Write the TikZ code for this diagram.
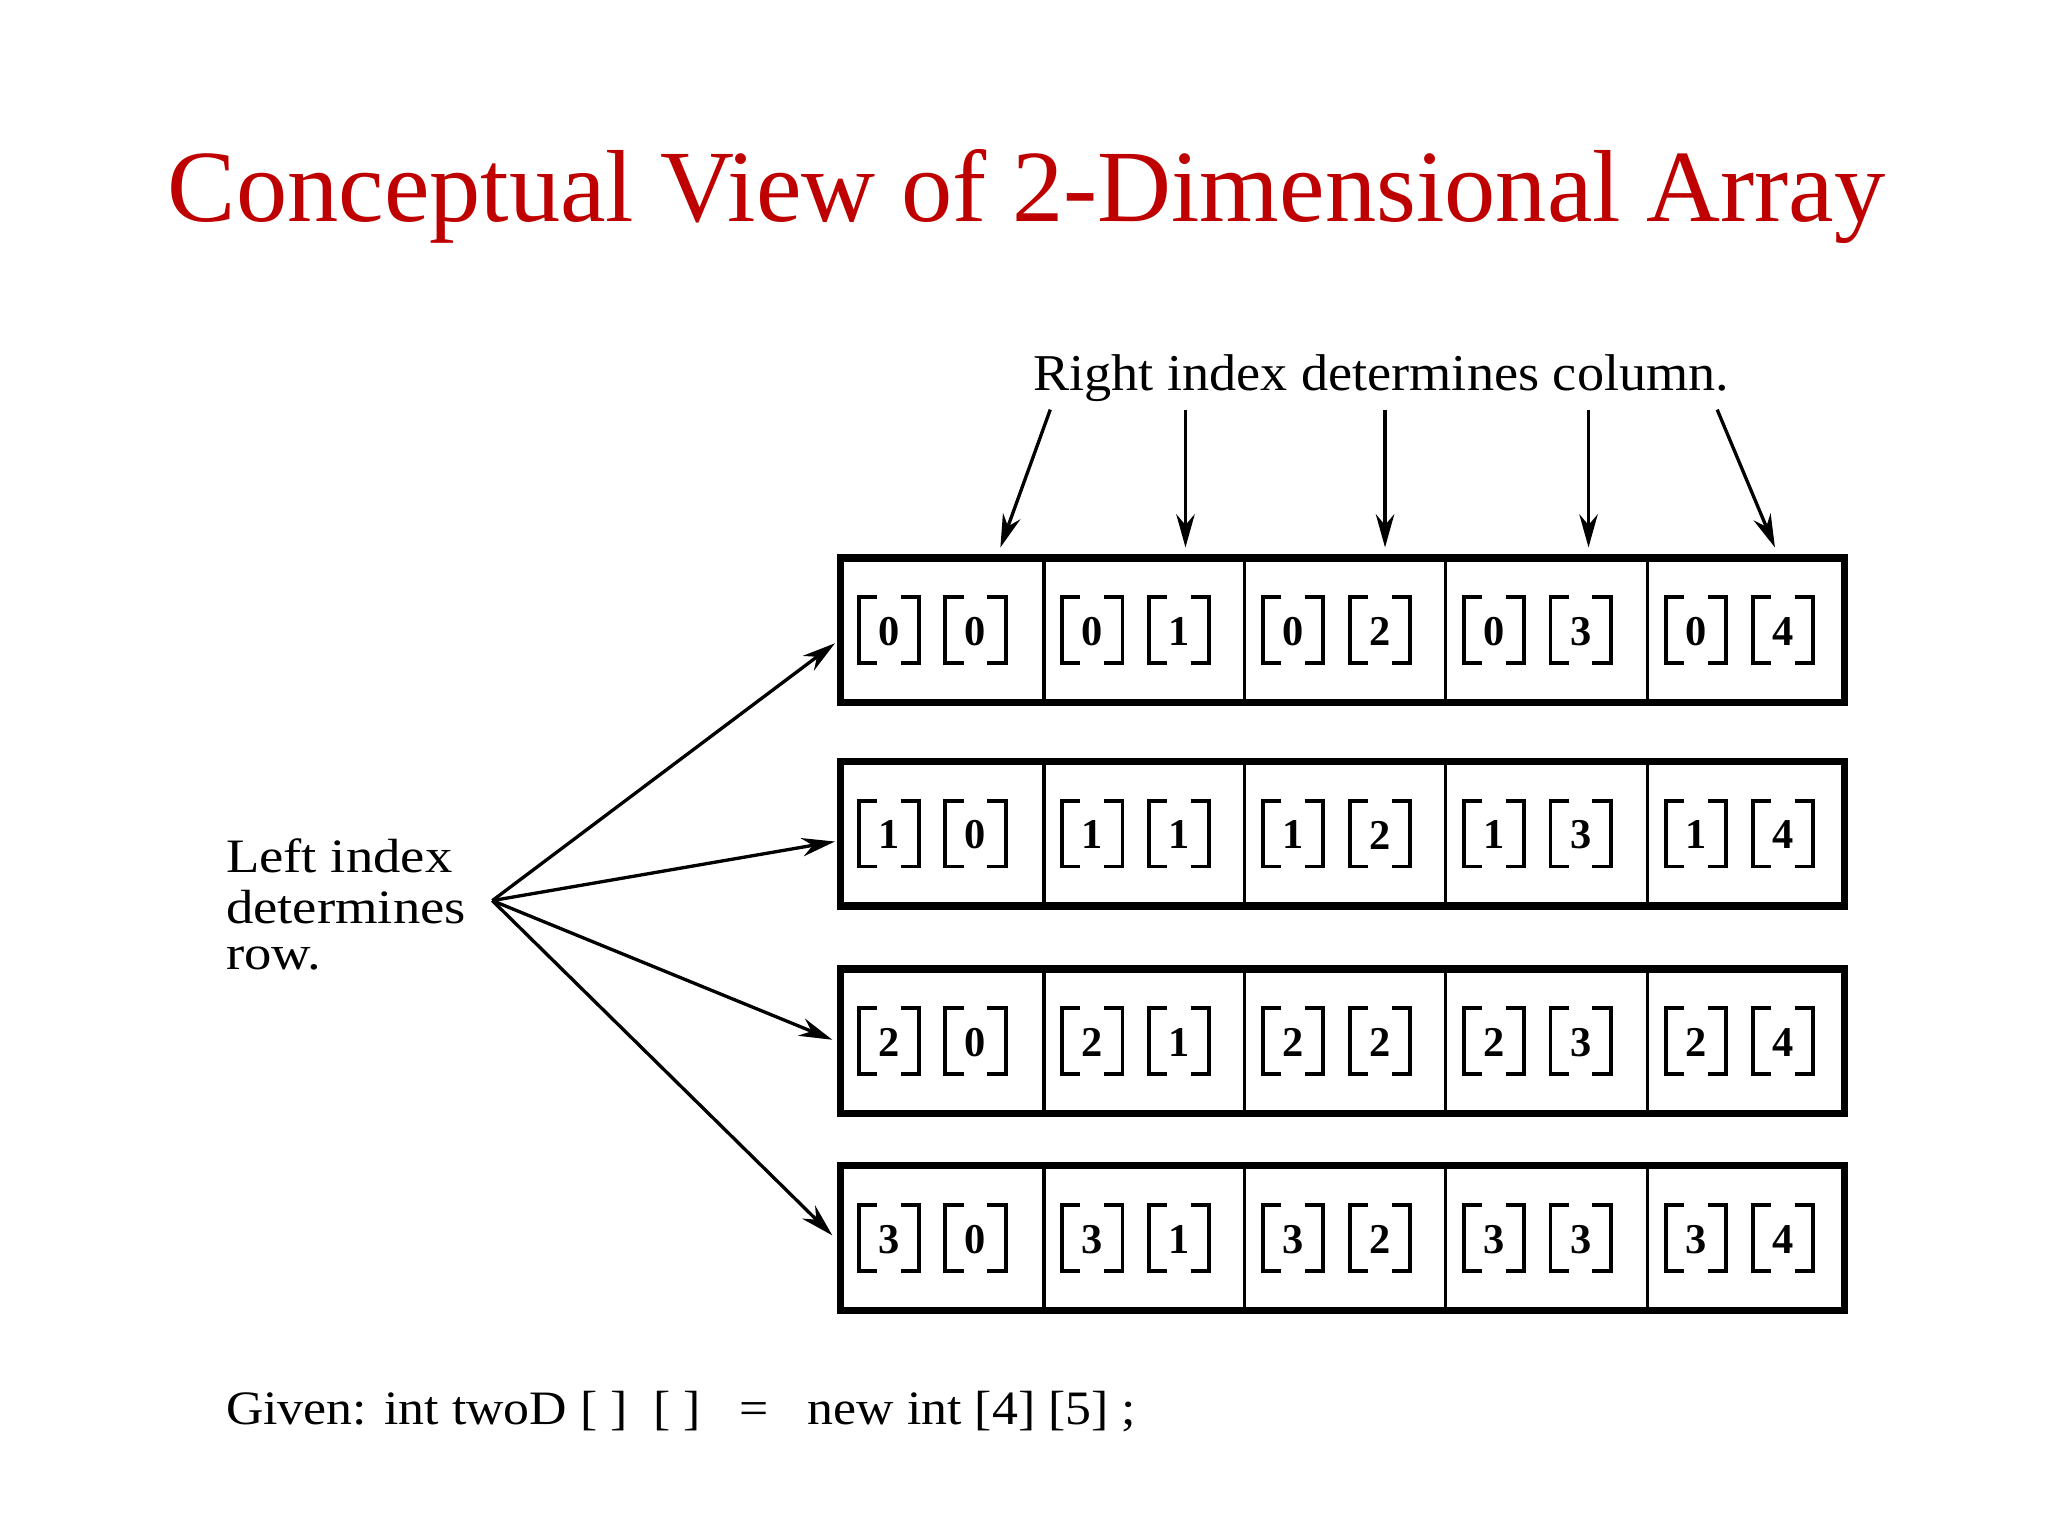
\documentclass[tikz,border=0pt]{standalone}
\usepackage{fontspec}
\setmainfont{Liberation Serif}
\usetikzlibrary{arrows.meta}
\begin{document}
\begin{tikzpicture}[x=0.05cm,y=-0.05cm,
  arr/.style={line width=3.6pt,-{Stealth[length=36pt,width=20pt]}},
  brk/.style={line width=4.2pt},
  lbl/.style={anchor=west,inner sep=0,font=\fontsize{52}{64}\selectfont}]
\useasboundingbox (0,0) rectangle (1560,1170);
\fill[white] (0,0) rectangle (1560,1170);
\node[inner sep=0,text=red!75!black,font=\fontsize{111}{118}\selectfont] (title) at (782,150) {Conceptual View of 2-Dimensional Array};
\node[inner sep=0,font=\fontsize{56}{64}\selectfont,xscale=1.05] (rtext) at (1052,288) {Right index determines column.};
\node[lbl,xscale=1.14] (l1) at (172,652) {Left index};
\node[lbl,xscale=1.14] (l2) at (172,691) {determines};
\node[lbl,xscale=1.14] (l3) at (172,730) {row.};
\node[lbl,xscale=1.08] (given) at (172,1075) {Given: int twoD [ ]\ \ [ ]\ \ \ =\ \ \ new int [4] [5] ;};
\def\colx{{640,795,948,1101,1255,1405}}
\foreach \r/\yt in {0/425,1/580,2/738,3/888}{
  \pgfmathsetmacro{\yb}{\yt+110}
  \pgfmathsetmacro{\yc}{\yt+55}
  \foreach \c in {0,...,4}{
    \pgfmathsetmacro{\xa}{\colx[\c]}
    \pgfmathsetmacro{\xb}{\colx[\c+1]}
    \draw[line width=4pt] (\xa,\yt) rectangle (\xb,\yb);
    \foreach \v/\off in {\r/14,\c/80}{
      \pgfmathsetmacro{\bx}{\xa+\off}
      \draw[brk] (\bx+14,\yc-25) -- (\bx,\yc-25) -- (\bx,\yc+25) -- (\bx+14,\yc+25);
      \draw[brk] (\bx+46-14,\yc-25) -- (\bx+46,\yc-25) -- (\bx+46,\yc+25) -- (\bx+46-14,\yc+25);
      \node[inner sep=0,font=\fontsize{46}{46}\selectfont\bfseries] (n\r\c\off) at (\bx+23,\yc+1) {\v};
    }
  }
  \draw[line width=8pt] (640,\yt) rectangle (1405,\yb);
  \coordinate (row\r) at (637,\yc);
}
\foreach \i/\sx/\tx in {0/800/762,1/903/903,2/1055/1055,3/1210/1210,4/1308/1352}{
  \coordinate (cs\i) at (\sx,312);
  \coordinate (ct\i) at (\tx,417);
  \draw[arr] (cs\i) -- (ct\i);
}
\coordinate (src) at (375,686);
\coordinate (t0) at (636,490);
\coordinate (t1) at (636,641);
\coordinate (t2) at (634,792);
\coordinate (t3) at (634,941);
\foreach \i in {0,...,3}{\draw[arr] (src) -- (t\i);}
\end{tikzpicture}
\end{document}
